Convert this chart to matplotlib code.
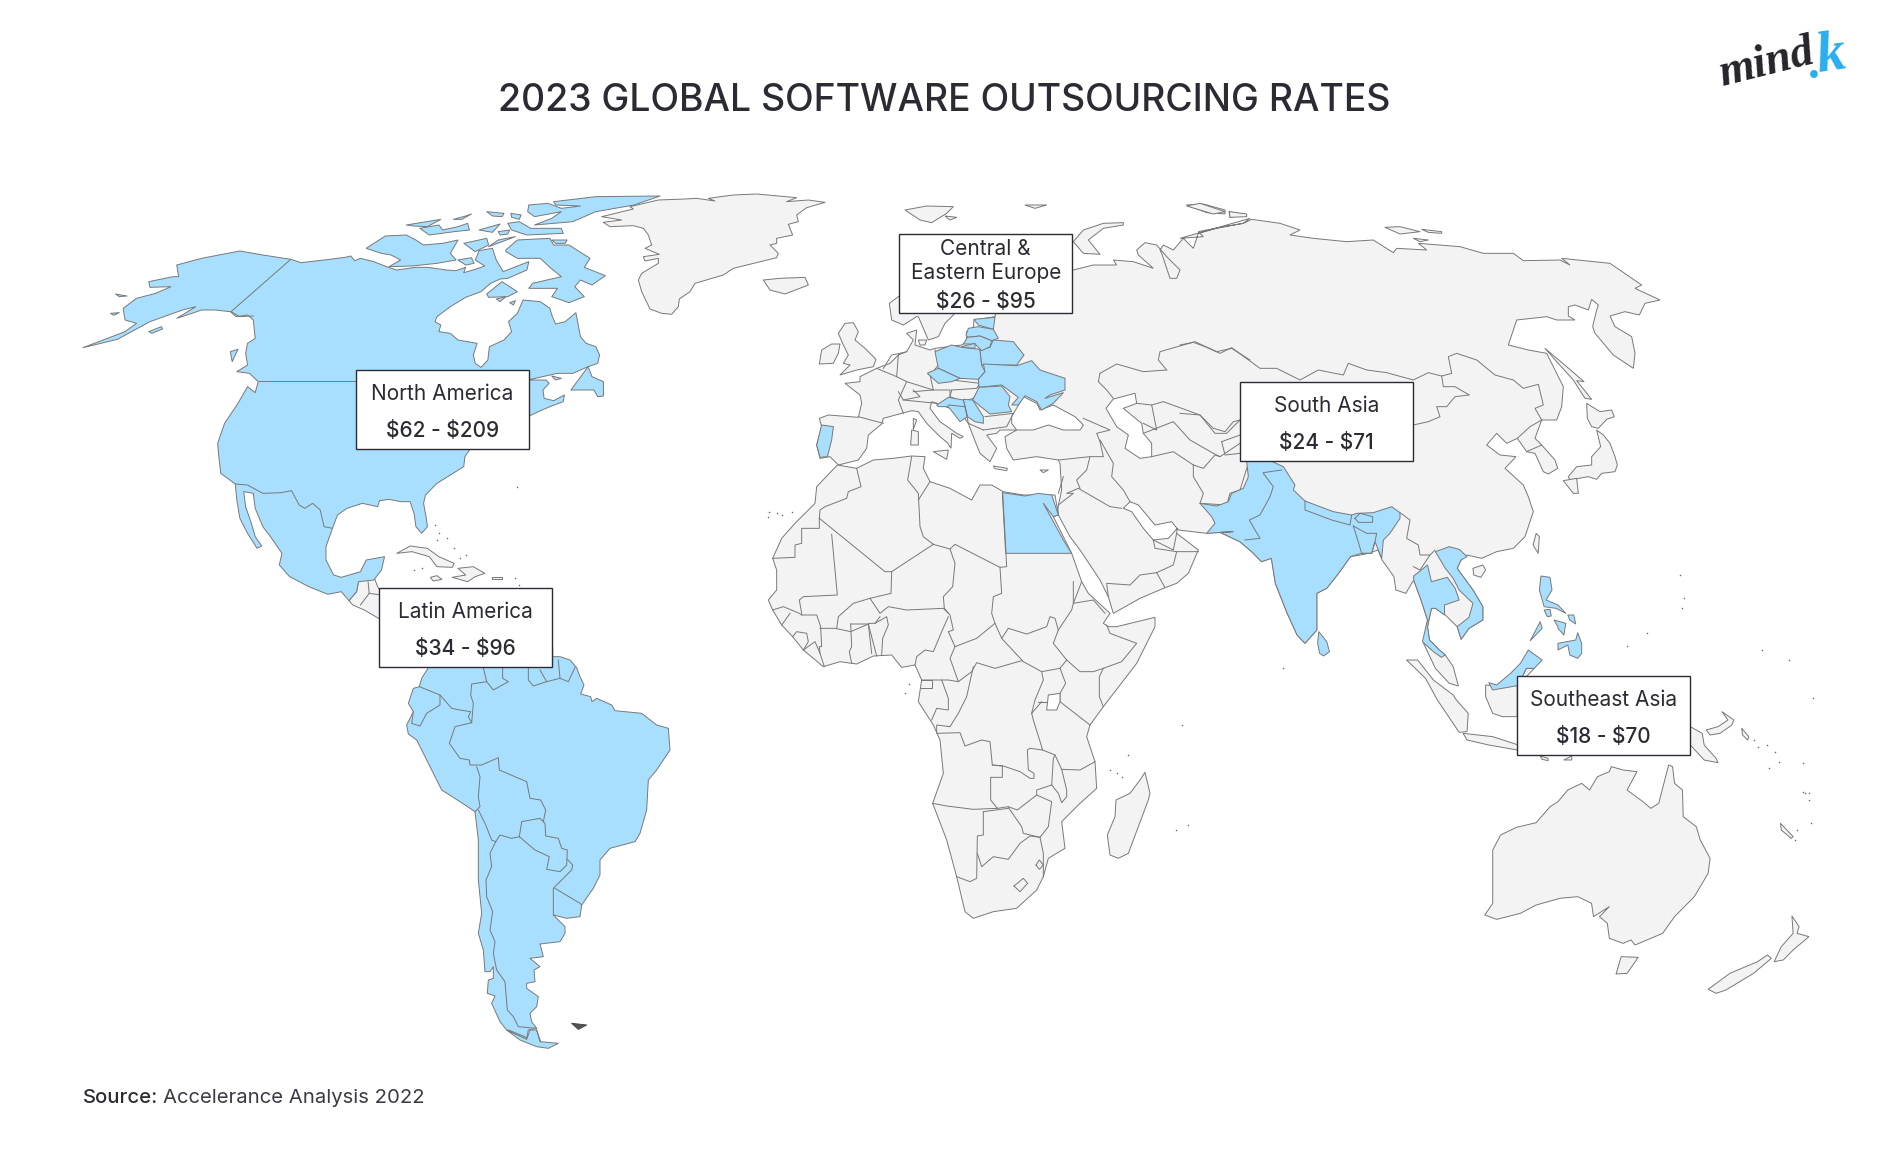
import matplotlib
matplotlib.use("Agg")
import matplotlib.pyplot as plt
from matplotlib.patches import Polygon, Rectangle

# Reading frames of the outline lists: origin x, origin y, scale x, scale y
F1 = (60, 180, 2.613, 3)
F2 = (380, 580, 3, 3)
F3 = (750, 200, 3, 3)
F4 = (1180, 190, 3, 3)
F5 = (1220, 500, 2.53, 3)
F6 = (760, 450, 3, 3)
FG = (600, 185, 3, 3)
FE = (880, 310, 3, 3)

TITLE = "2023 GLOBAL SOFTWARE OUTSOURCING RATES"
REGIONS = ["North America", "Latin America", "Central &\nEastern Europe", "South Asia", "Southeast Asia"]
RATES = ["$62 - $209", "$34 - $96", "$26 - $95", "$24 - $71", "$18 - $70"]

# ---------- highlighted countries ----------
NORTH_AMERICA = [(305,255),(370,235),(470,213),(530,225),(603,238),(630,248),(690,240),(745,232),(760,228),(770,242),(785,235),(820,245),(858,262),(880,270),(930,262),(960,262),(1010,270),(1035,272),(1060,262),(1055,278),(1085,268),(1110,258),(1085,240),(1095,212),(1130,205),(1140,240),(1158,275),(1180,265),(1225,245),(1220,270),(1170,295),(1150,297),(1125,310),(1100,335),(1060,352),(1020,380),(985,410),(980,425),(995,435),(990,455),(1020,460),(1040,480),(1090,490),(1080,525),(1085,550),(1100,562),(1118,540),(1122,500),(1160,480),(1180,455),(1172,425),(1195,400),(1210,360),(1255,365),(1280,385),(1285,405),(1295,432),(1320,425),(1348,398),(1360,470),(1375,490),(1400,500),(1410,525),(1405,550),(1380,560),(1340,580),(1300,580),(1230,598),(1228,600),(1270,600),(1278,610),(1262,630),(1265,655),(1290,662),(1318,645),(1315,665),(1280,680),(1250,695),(1228,707),(1100,780),(1070,810),(1058,830),(1055,860),(1020,885),(985,910),(955,945),(950,970),(958,1020),(960,1040),(945,1060),(930,1040),(925,1000),(915,965),(890,965),(860,958),(835,962),(830,980),(790,970),(750,985),(725,1005),(712,1045),(695,1100),(695,1140),(715,1185),(735,1192),(785,1175),(800,1140),(848,1130),(840,1170),(820,1200),(780,1205),(775,1235),(755,1262),(735,1235),(700,1243),(650,1220),(600,1190),(573,1155),(580,1120),(550,1070),(530,1040),(510,985),(505,940),(480,935),(485,980),(500,1030),(510,1070),(527,1098),(515,1105),(490,1060),(470,1015),(462,960),(458,912),(420,880),(415,830),(412,790),(430,730),(465,670),(490,620),(510,638),(518,605),(495,580),(462,575),(490,555),(485,520),(490,490),(510,475),(505,420),(490,405),(460,410),(445,395),(405,390),(370,390),(345,400),(305,415),(355,380),(320,390),(235,425),(150,478),(60,503),(170,455),(200,430),(170,420),(165,385),(200,355),(250,340),(290,320),(235,322),(232,305),(295,290),(310,290)]
NA_ISLANDS = [
 [(445,515),(465,508),(450,545)],
 [(232,455),(265,440),(268,447),(240,460)],
 [(145,342),(175,348),(155,350)],
 [(132,400),(155,398),(140,406)],
 [(1290,65),(1400,50),(1568,48),(1500,75),(1400,95),(1340,125),(1240,135),(1285,115),(1310,95),(1240,110),(1222,95),(1225,75),(1275,70),(1310,85),(1360,78),(1295,75)],
 [(800,205),(850,168),(905,165),(930,180),(950,195),(1000,190),(1040,180),(1020,220),(1035,240),(985,250),(920,258),(860,260),(890,240),(865,225),(840,220)],
 [(905,135),(995,118),(960,140),(925,138)],
 [(940,145),(990,135),(1000,150),(1040,140),(1065,130),(1070,150),(1030,155),(965,165)],
 [(1028,118),(1060,108),(1075,102),(1050,118)],
 [(1165,210),(1195,180),(1280,175),(1290,195),(1330,195),(1385,235),(1370,262),(1425,287),(1390,315),(1360,300),(1345,320),(1370,350),(1330,368),(1285,350),(1300,325),(1225,325),(1235,310),(1310,290),(1280,262),(1255,235),(1195,235),(1165,215)],
 [(1055,190),(1115,175),(1120,195),(1085,215)],
 [(1120,200),(1190,170),(1145,180)],
 [(1285,180),(1325,180),(1320,190),(1295,190)],
 [(1040,240),(1075,233),(1082,250),(1060,255)],
 [(1170,130),(1200,125),(1230,145),(1310,145),(1315,160),(1220,165),(1180,150)],
 [(1095,150),(1150,132),(1130,157)],
 [(1145,155),(1175,150),(1170,162),(1150,165)],
 [(1115,95),(1160,100),(1155,110),(1130,108)],
 [(1178,100),(1205,105),(1200,118),(1180,112)],
 [(1115,342),(1155,305),(1195,335),(1170,350),(1120,352)],
 [(1140,357),(1165,350),(1150,365)],
 [(1175,368),(1190,362),(1185,375)],
 [(1335,630),(1380,560),(1390,590),(1420,605),(1420,648),(1405,650),(1395,630)],
 [(1285,588),(1310,595),(1295,600)],
]
NA_BORDERS = [
 [(603,238),(447,395),(470,410),(505,408)],
 [(520,604),(775,604)],
 [(458,912),(490,915),(530,940),(578,938),(605,932),(625,975),(640,985),(660,970),(680,990),(690,1040),(712,1045)],
]
SOUTH_AMERICA = [(145,263),(125,295),(118,320),(100,325),(85,370),(100,395),(80,435),(85,462),(110,480),(140,540),(175,610),(185,630),(240,665),(285,695),(295,780),(295,900),(305,1000),(295,1060),(310,1110),(315,1175),(330,1175),(340,1160),(340,1195),(325,1200),(322,1240),(345,1248),(335,1270),(360,1325),(380,1350),(440,1378),(445,1350),(470,1345),(455,1325),(450,1300),(470,1280),(475,1250),(440,1225),(440,1210),(465,1205),(462,1170),(480,1160),(450,1135),(490,1130),(480,1092),(540,1085),(555,1060),(555,1040),(520,1005),(560,1015),(600,1010),(605,975),(640,925),(660,885),(660,840),(690,805),(765,785),(780,760),(800,690),(805,600),(830,570),(870,510),(865,445),(830,435),(785,400),(705,392),(695,375),(650,355),(636,365),(632,350),(602,342),(612,315),(600,290),(590,263),(570,240),(540,230),(518,230),(518,200),(145,200)]
TIERRA = [(380,1350),(440,1378),(450,1350),(470,1350),(480,1385),(535,1390),(505,1405),(470,1400),(420,1380)]
SA_BORDERS = [
 [(118,320),(180,345),(180,375),(140,400),(120,438),(95,430),(100,395)],
 [(180,345),(215,385),(240,390),(272,395),(265,410),(275,428)],
 [(275,428),(225,440),(208,490),(240,535),(268,540),(270,555),(305,555),(355,533),(358,570),(440,605),(450,655),(482,660),(497,690),(490,725)],
 [(310,263),(320,305),(275,312),(272,345),(280,370),(275,428)],
 [(320,305),(340,330),(385,305),(368,295),(368,263)],
 [(445,263),(445,300),(460,318),(500,305),(480,270)],
 [(500,305),(540,295),(535,240)],
 [(540,295),(565,305),(585,262)],
 [(290,560),(300,590),(295,650),(300,680),(285,695)],
 [(295,690),(315,730),(335,780),(347,785)],
 [(347,785),(360,765),(395,775),(418,770)],
 [(418,770),(425,725),(480,715),(495,730),(497,768),(535,775),(545,805),(562,810),(560,855),(540,875),(500,868),(508,830),(465,810),(418,770)],
 [(562,838),(578,855),(575,870),(525,920),(520,925),(520,1005)],
 [(525,925),(600,970),(605,975)],
 [(347,785),(330,820),(335,860),(318,900),(320,950),(338,995),(330,1050),(345,1085),(340,1120),(350,1170),(375,1205),(382,1290),(400,1310),(415,1340),(470,1345)],
 [(385,1350),(440,1372)],[(470,1350),(482,1385)],
]
FALKLANDS = [(575,1330),(620,1335),(595,1348)]

EU_BLUE = [
 [(165,125),(215,105),(245,112),(300,118),(305,165),(315,185),(295,208),(240,205),(175,175)],
 [(142,190),(175,175),(240,205),(215,215),(175,220)],
 [(340,90),(400,95),(432,135),(410,165),(305,165),(300,120),(330,112)],
 [(282,28),(345,22),(340,58),(295,45)],
 [(258,75),(265,55),(295,50),(340,58),(355,85),(335,92),(300,78),(262,82)],
 [(262,82),(300,78),(335,92),(330,110),(305,122),(285,102),(250,102),(262,82)],
 [(245,110),(285,100),(285,115),(250,112)],
 [(310,162),(410,167),(455,152),(480,180),(555,205),(555,240),(510,255),(495,265),(550,248),(520,280),(485,300),(470,275),(435,257),(415,285),(395,285),(415,262),(365,225),(297,232),(295,208),(315,185)],
 [(297,232),(365,228),(390,260),(385,285),(395,305),(330,312),(278,270)],
 [(250,268),(278,270),(310,320),(310,340),(285,335),(262,320)],
 [(170,285),(205,262),(250,270),(262,320),(240,335),(205,290),(175,290)],
]
EU_BLUE_LINES = [[(205,285),(255,290),(262,320)]]
PORTUGAL = [(215,675),(250,680),(245,720),(232,770),(210,772),(200,735)]
EGYPT = [(757,878),(825,888),(865,880),(905,885),(925,945),(910,950),(880,910),(940,1020),(965,1060),(767,1060)]

SOUTH_ASIA_A = [(60,940),(110,948),(145,935),(155,910),(190,895),(205,860),(200,814),(200,780),(275,780),(275,814),(310,830),(345,885),(340,900),(375,933),(460,965),(515,975),(530,970),(580,968),(635,950),(660,968),(660,985),(630,1030),(610,1050),(605,1105),(585,1055),(575,1090),(545,1090),(510,1100)]
SOUTH_ASIA_B = [(330,170),(300,220),(270,265),(245,280),(245,390),(215,430),(195,405),(170,340),(140,250),(130,175),(105,185),(80,155),(50,125),(0,97)]
SOUTH_ASIA_C = [(160,1025),(80,1030),(105,1000),(95,980)]
SOUTH_ASIA_LINES = [
 [(250,848),(305,840)],
 [(250,850),(280,890),(270,920),(240,975),(208,990),(225,1020),(240,1045),(195,1050)],
 [(375,933),(375,960),(455,990),(510,1005),(515,975)],
 [(525,985),(540,970),(578,980),(578,997),(535,997),(525,985)],
 [(520,1008),(560,1030),(590,1030),(585,1055),(575,1090),(545,1090),(530,1040),(520,1008)],
]
SE_ASIA_BLUE = [
 [(250,395),(270,425),(277,455),(262,468),(252,460),(247,430)],
 [(545,155),(580,140),(605,148),(625,170),(610,180),(600,205),(640,270),(665,320),(665,360),(630,385),(610,418),(600,380),(630,352),(640,310),(605,270),(590,235),(570,205),(560,185)],
 [(490,228),(525,195),(535,245),(575,232),(595,265),(605,300),(568,315),(568,345),(545,325),(535,325),(525,380),(530,420),(555,450),(570,465),(560,472),(540,455),(512,425),(525,360),(510,305),(490,240)],
 [(680,548),(700,555),(735,520),(760,490),(780,450),(815,480),(795,505),(775,505),(765,530),(752,557),(690,570)],
 [(812,228),(835,232),(840,270),(825,300),(855,315),(875,340),(850,325),(820,320),(808,270)],
 [(820,330),(835,328),(838,348),(828,350)],
 [(810,365),(815,385),(785,422)],
 [(880,345),(895,345),(900,372),(885,360)],
 [(845,360),(875,370),(870,405),(855,385),(855,380)],
 [(905,398),(915,430),(915,460),(905,475),(885,465),(880,435),(855,450),(855,430),(900,420)],
]

# ---------- grey land ----------
EURASIA_A = [(970,210),(1030,195),(1100,195),(1090,180),(1150,185),(1210,205),(1165,165),(1160,150),(1185,128),(1220,135),(1250,170),(1290,210),(1280,235),(1260,235),(1235,160),(1230,150),(1240,135),(1270,150),(1300,115),(1330,145),(1345,100),(1400,85),(1480,70),(1500,55)]
EURASIA_B = [(0,145),(70,140),(55,125),(130,110),(190,100),(215,88),(300,100),(360,120),(330,135),(400,145),(500,155),(580,150),(640,188),(650,175),(740,180),(715,160),(840,170),(910,190),(1000,190),(1030,212),(1140,210),(1170,225),(1145,205),(1290,220),(1385,285),(1365,295),(1440,330),(1395,340),(1378,375),(1335,365),(1290,378),(1305,410),(1355,440),(1365,490),(1360,535),(1300,495),(1245,430),(1238,410),(1250,360),(1255,345),(1235,328),(1225,360),(1185,345),(1165,350),(1165,378),(1185,390),(1130,390),(1100,380),(1010,390),(985,465),(1045,480),(1100,490),(1150,590),(1145,650),(1130,690),(1085,690),(1065,745),(1085,765),(1125,810),(1133,835),(1105,852),(1090,845),(1065,790),(1040,785),(1012,745),(980,760),(950,730),(920,765),(960,795),(1008,800),(975,835),(1030,885),(1045,920),(1060,965),(1035,1040),(1000,1075),(950,1085),(905,1105),(860,1095)]
EURASIA_C = [(610,180),(600,205),(640,270),(665,320),(665,360),(630,385),(610,418),(600,380),(570,345),(545,325),(535,325),(525,380),(530,420),(555,450),(570,465),(590,500),(603,558),(580,550),(545,505),(515,430),(525,360),(510,305),(490,240),(470,280),(445,270),(440,230),(410,180),(400,150),(375,160),(355,165),(330,170),(300,220),(270,265),(245,280),(245,390),(215,430),(195,405),(170,340),(140,250),(130,175),(105,185),(80,155),(50,125),(0,97)]
EURASIA_D = [(1370,1000),(1285,990),(1265,965),(1215,975),(1165,915),(1140,905),(1120,925),(1145,935),(1180,985),(1210,1020),(1255,1015),(1282,985),(1280,1000),(1345,1050)]
EURASIA_E = [(1285,370),(1250,400),(1215,413),(1140,445),(1060,490),(1045,440),(1020,390),(960,300),(930,260),(895,195),(893,170)]
EURASIA_F = [(920,940),(935,870),(930,790),(925,780),(860,770),(790,780),(770,745),(765,710),(800,690),(750,690),(740,700),(710,705),(740,745),(720,785),(690,760),(670,710),(655,670),(640,650),(600,625),(560,610),(545,605),(540,625),(570,665),(620,700),(640,710),(630,715),(605,700),(603,745),(592,728),(570,710),(530,670),(505,635),(485,632),(455,640),(400,655),(395,672),(355,705),(350,745),(325,780),(265,795),(240,770),(210,775),(200,735),(215,680),(208,655),(235,645),(325,652),(335,610),(330,585),(285,550),(330,545),(330,530),(380,505),(420,490),(450,460),(470,455),(490,420),(470,400),(500,390),(495,435),(540,450),(555,445),(635,435),(650,425),(650,395),(670,382),(672,360),(735,350),(740,325),(620,325),(610,345),(585,370),(565,410),(535,420),(505,350),(500,350),(460,375),(425,360),(418,310),(445,290),(700,200)]
BLACK_SEA = [(785,650),(820,590),(860,610),(870,630),(910,615),(975,650),(1000,675),(990,690),(940,690),(895,675),(850,690),(800,690),(785,670)]
CASPIAN = [(1090,597),(1155,580),(1160,610),(1120,625),(1150,650),(1175,670),(1180,700),(1205,730),(1205,770),(1170,775),(1125,745),(1135,705),(1100,680),(1068,625)]
GREENLAND = [(5,95),(100,72),(90,65),(175,45),(255,42),(290,40),(345,48),(325,40),(400,30),(470,27),(590,38),(560,50),(625,45),(675,52),(620,68),(590,90),(595,110),(565,118),(578,150),(530,160),(530,175),(510,180),(535,205),(530,218),(400,250),(370,270),(285,295),(270,320),(238,342),(235,365),(215,388),(185,385),(150,372),(125,320),(115,285),(125,265),(175,235),(175,220),(135,228),(130,215),(178,208),(135,190),(155,180),(145,150),(130,130),(100,122),(30,125),(10,112),(65,105)]
F3_ISLANDS = [
 [(40,240),(90,235),(165,232),(175,255),(105,282),(60,270)],
 [(465,30),(530,18),(610,20),(590,40),(545,68),(510,60)],
 [(825,15),(890,15),(855,25)],
 [(585,48),(620,52),(600,60)],
 [(970,125),(1000,90),(1060,70),(1120,68),(1120,75),(1060,85),(1015,120),(1050,163),(1000,160)],
 [(1310,15),(1360,12),(1425,30),(1425,42),(1370,38)],
 [(1437,35),(1490,45),(1440,52)],
 [(285,370),(310,368),(325,395),(315,420),(345,445),(378,478),(370,500),(320,510),(270,525),(300,495),(280,490),(295,465),(280,435),(265,400)],
 [(245,432),(270,432),(265,460),(250,490),(208,492),(215,450)],
 [(505,420),(530,420),(525,435),(510,435)],
 [(485,690),(505,695),(505,735),(482,735)],
 [(490,655),(500,660),(490,688)],
 [(550,755),(595,750),(590,778)],
 [(730,798),(772,805),(770,812),(735,806)],
 [(870,810),(895,810),(880,818)],
]
F4_ISLANDS = [
 [(1250,720),(1270,735),(1290,760),(1305,800),(1312,825),(1305,845),(1265,850),(1250,868),(1225,860),(1170,870),(1165,860),(1190,830),(1235,825),(1235,800),(1262,770)],
 [(1150,872),(1190,865),(1195,910),(1180,910)],
 [(1220,640),(1260,665),(1295,660),(1303,680),(1280,688),(1255,715),(1235,710),(1222,685)],
 [(1095,475),(1160,530),(1212,575),(1190,572),(1235,628),(1215,625),(1180,570),(1130,515)],
 [(615,112),(660,110),(720,125),(660,132)],
 [(725,118),(785,125),(785,130),(745,127)],
 [(700,145),(745,150),(720,155)],
 [(20,48),(60,40),(135,65),(100,72)],
 [(148,65),(200,72),(200,80),(150,82)],
]
F5_ISLANDS = [
 [(640,205),(665,195),(672,210),(660,232),(642,225)],
 [(800,100),(808,110),(805,160),(792,135)],
 [(472,480),(500,480),(540,540),(590,585),(598,600),(628,640),(625,695),(605,697),(550,600),(520,535)],
 [(615,700),(690,710),(755,735),(752,750),(680,735),(625,720)],
 [(672,555),(720,560),(752,555),(752,650),(715,650),(690,640),(672,590)],
 [(775,505),(795,505),(775,530),(752,560)],
 [(810,768),(830,775),(830,782),(815,778)],
 [(870,780),(890,768),(890,780)],
 [(1190,680),(1220,700),(1225,735),(1255,775),(1260,788),(1225,780),(1190,735)],
 [(1270,635),(1300,660),(1295,675),(1265,700),(1240,705),(1230,690),(1260,680),(1285,660)],
 [(1320,685),(1338,710),(1335,720),(1322,705)],
 [(1418,970),(1450,1010),(1445,1015),(1420,990)],
 [(690,1050),(710,1005),(750,982),(800,968),(835,920),(855,905),(880,870),(915,850),(935,870),(955,830),(985,815),(990,800),(1020,810),(1055,815),(1030,870),(1070,905),(1090,925),(1110,910),(1135,795),(1145,800),(1150,850),(1170,870),(1172,950),(1205,980),(1215,1020),(1240,1075),(1235,1120),(1200,1190),(1150,1250),(1120,1300),(1050,1335),(1040,1320),(1020,1330),(985,1315),(980,1270),(960,1250),(985,1220),(945,1250),(940,1210),(905,1190),(860,1195),(800,1215),(760,1240),(700,1258),(670,1245),(690,1210),(690,1100)],
 [(1015,1370),(1058,1372),(1030,1420),(1002,1422)],
 [(1447,1248),(1465,1280),(1460,1300),(1490,1310),(1450,1350),(1425,1380),(1402,1385),(1420,1340),(1450,1300)],
 [(1385,1365),(1395,1375),(1350,1420),(1280,1470),(1255,1480),(1235,1468),(1290,1420),(1360,1385)],
]
F1_GREY = [
 [(780,1205),(820,1190),(830,1220),(840,1240),(840,1320),(795,1290),(765,1275),(755,1262),(775,1235)],
 [(880,1120),(915,1098),(960,1105),(990,1130),(1030,1150),(1025,1162),(985,1160),(965,1130),(920,1115)],
 [(1040,1165),(1080,1160),(1110,1180),(1085,1190),(1065,1205),(1025,1192),(1060,1185)],
 [(968,1192),(985,1187),(998,1198),(975,1203)],
 [(1128,1190),(1155,1190),(1155,1198),(1130,1198)],
]
F1_GREY_LINES = [[(805,1205),(808,1240),(785,1275)],[(808,1240),(840,1245)]]
AFRICA = [(232,45),(290,55),(340,30),(400,25),(455,18),(495,20),(490,55),(510,95),(570,115),(635,150),(660,105),(695,105),(730,125),(790,135),(885,135),(895,195),(880,200),(935,310),(965,395),(985,430),(1050,490),(1030,520),(1045,530),(1070,530),(1185,502),(1185,530),(1130,640),(1030,770),(990,825),(980,860),(1005,935),(1010,1015),(960,1060),(905,1115),(915,1195),(865,1225),(850,1280),(830,1320),(770,1375),(700,1385),(640,1405),(615,1385),(590,1280),(560,1170),(518,1060),(550,970),(540,870),(520,825),(475,755),(485,690),(465,645),(425,652),(395,615),(340,618),(290,642),(240,635),(190,650),(130,600),(98,560),(65,525),(38,480),(25,450),(50,420),(50,360),(38,325),(65,265),(105,220),(165,160),(170,110)]
LAKE_VICTORIA = [(860,780),(865,735),(900,730),(900,755),(890,780)]
F6_SMALL = [
 [(1155,967),(1170,1030),(1165,1050),(1135,1130),(1105,1210),(1075,1225),(1050,1215),(1042,1155),(1065,1100),(1068,1050),(1110,1030),(1140,990)],
]
AFRICA_BORDERS = [
 [(290,55),(303,110),(265,125),(260,145),(195,170),(180,180),(178,205)],
 [(38,325),(105,322),(105,285),(125,280),(125,235),(178,235),(178,205)],
 [(215,253),(232,435),(130,440),(118,450),(125,490)],
 [(178,205),(375,365),(395,365),(520,283)],
 [(455,20),(443,90),(475,130),(480,230),(490,260),(520,283)],
 [(475,150),(510,95)],
 [(520,283),(570,297),(585,283),(720,352),(740,350),(728,127)],
 [(395,365),(393,430),(330,445)],
 [(330,445),(360,490),(385,470),(440,480),(550,475),(565,490)],
 [(570,297),(585,340),(578,410),(550,440),(553,475),(570,495),(580,540),(565,545),(585,590),(650,565),(705,520),(695,490),(700,440),(725,430),(720,352)],
 [(940,395),(940,460),(935,480),(895,540),(880,580),(920,630)],
 [(965,395),(940,460),(1000,450),(1035,490)],
 [(705,520),(725,565),(745,535),(800,552),(860,530),(870,500),(885,505),(895,540)],
 [(725,565),(790,635),(845,665),(900,655),(920,630)],
 [(585,590),(570,625),(595,695),(635,665),(650,638),(705,655),(785,632)],
 [(920,630),(960,665),(1000,665),(1030,655),(1085,635),(1130,580),(1050,550),(1040,525)],
 [(900,655),(917,700),(900,730),(900,755),(990,825)],
 [(1030,770),(1018,740),(1018,680),(1030,655)],
 [(845,665),(850,690),(825,750),(815,790)],
 [(835,755),(865,755)],
 [(640,650),(620,740),(595,790),(570,830),(530,825),(530,850),(600,848),(615,888),(665,870),(690,875),(697,945),(730,948),(780,965),(810,985),(822,985),(822,970),(805,960),(802,900),(810,895),(848,900),(820,810),(815,790)],
 [(518,1060),(560,1068),(640,1078),(712,1075)],
 [(697,945),(727,948),(727,982),(692,982),(692,1050),(712,1075)],
 [(712,1075),(745,1070),(772,1080),(830,1035),(830,1020),(875,1005),(880,925),(885,915),(848,900)],
 [(745,1072),(785,1130),(790,1150),(840,1162),(865,1130),(875,1055),(830,1035)],
 [(670,1085),(670,1155),(652,1158),(650,1285),(630,1295),(590,1280)],
 [(670,1085),(745,1075)],
 [(652,1210),(665,1250),(700,1220),(745,1228),(780,1180),(810,1158),(840,1162)],
 [(840,1162),(850,1210),(850,1280)],
 [(905,958),(960,960),(1005,935)],
 [(885,915),(905,958),(920,1020),(920,1040),(905,1058),(895,1030),(875,1005)],
 [(815,790),(845,755)],
 [(762,1308),(790,1285),(803,1300),(780,1325),(762,1308)],
 [(828,1245),(838,1230),(850,1245),(838,1258),(828,1245)],
 [(38,480),(70,470),(118,490),(125,495)],
 [(125,495),(170,495),(182,530),(185,590),(178,590),(180,610),(193,650)],
 [(65,525),(90,490)],
 [(98,560),(110,545),(140,550),(145,575),(130,600)],
 [(130,600),(165,575),(180,610)],
 [(180,535),(225,535),(272,545),(330,520),(345,520),(360,500)],
 [(230,535),(235,500),(280,460),(330,445)],
 [(272,522),(325,522),(350,618)],
 [(272,522),(275,590),(268,605),(275,640)],
 [(325,522),(335,610)],
 [(345,520),(380,500),(385,525),(368,565),(365,615)],
 [(465,645),(470,620),(495,600),(520,605),(545,545),(565,500)],
 [(595,695),(565,690),(485,690)],
 [(485,690),(515,690),(515,715),(482,715)],
 [(545,690),(565,745),(565,780),(530,775),(515,810)],
]
F3_BORDERS = [
 [(380,505),(440,530),(470,545),(445,600),(460,640)],
 [(325,650),(400,670)],
 [(470,455),(445,465),(440,530)],
 [(470,545),(550,570),(540,525),(570,490),(555,450)],
 [(400,505),(425,465),(450,460)],
 [(445,575),(460,600),(510,590),(490,570)],
 [(490,575),(550,570),(600,570),(600,600)],
 [(460,600),(560,610)],
 [(605,540),(690,550),(680,565),(605,570)],
 [(605,570),(600,590),(640,605),(670,595),(690,565)],
 [(705,650),(790,640)],
 [(700,690),(770,680),(790,640)],
 [(650,645),(655,670),(700,690)],
 [(1250,510),(1225,480),(1230,455),(1335,425),(1400,455),(1445,445),(1500,480)],
 [(1050,520),(1100,492),(1180,515),(1250,510)],
 [(1050,520),(1045,545),(1070,570),(1090,595)],
 [(1205,615),(1220,690),(1180,670)],
 [(1160,610),(1205,615),(1240,605),(1350,645),(1395,700),(1430,700),(1470,660)],
 [(1180,700),(1270,665),(1320,720),(1390,760),(1410,770),(1470,730)],
 [(1330,795),(1360,805),(1395,765),(1410,770)],
 [(1330,795),(1330,830),(1360,880),(1350,910)],
 [(1350,910),(1430,915),(1440,880),(1470,870),(1495,790)],
 [(1205,770),(1270,755),(1330,795)],
 [(1050,720),(1090,790),(1085,830),(1120,870),(1140,905)],
 [(925,780),(1020,770),(1060,770),(1050,725)],
 [(1020,770),(1010,810),(980,840),(990,865)],
 [(925,915),(970,880),(950,880),(985,865),(1080,920),(1115,925)],
 [(940,830),(925,880)],
 [(1000,655),(1080,690),(1040,700),(1050,725)],
 [(1280,1000),(1270,1050),(1210,1020)],
]
F4_BORDERS = [
 [(0,465),(40,457),(75,470),(120,490),(155,473),(240,535),(290,535),(360,570),(415,540),(490,555),(505,520),(560,540),(620,548),(700,570),(745,548),(785,558),(790,590),(825,590),(868,615),(825,620),(800,650),(770,650),(780,680),(745,695),(700,705)],
 [(785,558),(815,550),(805,500),(830,490),(890,510),(945,555),(1000,570),(1030,595),(1075,583),(1090,645),(1065,655),(1085,690)],
 [(1012,745),(1050,710),(1085,690)],
 [(1040,785),(1085,765)],
 [(0,670),(60,675),(100,715),(135,725),(160,695),(180,690)],
 [(125,755),(135,795),(180,790)],
 [(125,755),(180,735)],
 [(660,968),(690,990),(680,1045),(715,1065),(720,1095),(750,1095),(765,1080)],
 [(750,1095),(720,1140),(700,1130)],
]
F6_BORDERS = [
 [(1315,305),(1250,305),(1240,345),(1190,368),(1140,375),(1110,405),(1040,400),(1045,440)],
 [(1190,368),(1215,413)],
 [(1250,305),(1185,295),(1180,270)],
]

BOXES = [(355.9,370.3),(378.9,588.3),(899.3,234.3),(1240.3,382.3),(1517.2,676.3)]

TINY_F1 = [(980,1035),(990,1060),(1010,1075),(1030,1105),(1060,1125),(1045,1135),(985,1080),(1190,1195),(1200,1215),(1195,920),(925,1170),(945,1165)]
TINY_F6 = [(28,185),(50,190),(65,195),(95,185),(25,200),(1050,960),(1070,970),(1085,980),(1248,1140),(1283,1125),(1265,825),(1105,915),(447,702),(435,730)]
TINY_F5 = [(1165,225),(1175,295),(1168,325),(1080,400),(1030,438),(1370,450),(1440,480),(1500,593),(1350,720),(1385,735),(1405,755),(1415,785),(1390,805),(1475,790),(1480,880),(1490,900),(1495,970),(1460,990),(1455,1020),(1360,740),(1475,875),(1490,880),(160,503)]

BLUE = "#A8DFFF"
GREY = "#F3F3F3"
EDGE = "#787878"
INK = "#2D2A33"
FONT = "Inter"

def conv(frame, pts):
    x0, y0, sx, sy = frame
    return [(x0 + x / sx, y0 + y / sy) for x, y in pts]

fig = plt.figure(figsize=(18.89, 11.72), dpi=100, facecolor="white")
ax = fig.add_axes([0, 0, 1, 1])
ax.set_xlim(0, 1889)
ax.set_ylim(1172, 0)
ax.axis("off")

def poly(frame, pts, fc, z, ec=EDGE):
    ax.add_patch(Polygon(conv(frame, pts), closed=True, fc=fc, ec=ec, lw=0.7, zorder=z, joinstyle="round"))

def line(frame, pts, z=4):
    xy = conv(frame, pts)
    ax.plot([p[0] for p in xy], [p[1] for p in xy], color=EDGE, lw=0.7, zorder=z, solid_joinstyle="round")

eurasia = (conv(F3, EURASIA_A) + conv(F4, EURASIA_B) + conv(F5, EURASIA_C) + conv(F3, EURASIA_D)
           + conv(F6, EURASIA_E) + conv(F3, EURASIA_F))
ax.add_patch(Polygon(eurasia, closed=True, fc=GREY, ec=EDGE, lw=0.7, zorder=1))
poly(F6, AFRICA, GREY, 1)
poly(F6, LAKE_VICTORIA, "white", 5)
poly(FG, GREENLAND, GREY, 1)
poly(F3, BLACK_SEA, "white", 2)
poly(F3, CASPIAN, "white", 2)
for frame, group in ((F3, F3_ISLANDS), (F4, F4_ISLANDS), (F5, F5_ISLANDS), (F1, F1_GREY), (F6, F6_SMALL)):
    for pts in group:
        poly(frame, pts, GREY, 2)

poly(F1, NORTH_AMERICA, BLUE, 3)
for pts in NA_ISLANDS:
    poly(F1, pts, BLUE, 3)
poly(F2, SOUTH_AMERICA, BLUE, 3)
poly(F2, TIERRA, BLUE, 3)
poly(F2, FALKLANDS, "#555555", 3, ec="#444444")
for pts in EU_BLUE:
    poly(FE, pts, BLUE, 3)
poly(F3, PORTUGAL, BLUE, 3)
poly(F3, EGYPT, BLUE, 3)
south_asia = conv(F4, SOUTH_ASIA_A) + conv(F5, SOUTH_ASIA_B) + conv(F4, SOUTH_ASIA_C)
ax.add_patch(Polygon(south_asia, closed=True, fc=BLUE, ec=EDGE, lw=0.7, zorder=3))
for pts in SE_ASIA_BLUE:
    poly(F5, pts, BLUE, 3)

for frame, group in ((F1, NA_BORDERS), (F2, SA_BORDERS), (FE, EU_BLUE_LINES), (F4, SOUTH_ASIA_LINES),
                     (F6, AFRICA_BORDERS), (F4, F4_BORDERS), (F6, F6_BORDERS), (F1, F1_GREY_LINES)):
    for pts in group:
        line(frame, pts, 4)
for pts in F3_BORDERS:
    line(F3, pts, 2.5)

for frame, pts in ((F1, TINY_F1), (F6, TINY_F6), (F5, TINY_F5)):
    xy = conv(frame, pts)
    ax.plot([p[0] for p in xy], [p[1] for p in xy], ls="none", marker="o", ms=1.1, mfc="#666666", mec="none", zorder=4)

for (bx, by), region, rate in zip(BOXES, REGIONS, RATES):
    ax.add_patch(Rectangle((bx, by), 173, 79, fc="white", ec=INK, lw=1.0, zorder=6))
    cx = bx + 86.5
    if "\n" in region:
        a, b = region.split("\n")
        ax.text(cx, by + 20.7, a, ha="center", va="baseline", fontsize=15, color=INK, family=FONT, zorder=7)
        ax.text(cx, by + 44.7, b, ha="center", va="baseline", fontsize=15, color=INK, family=FONT, zorder=7)
        ax.text(cx, by + 73.4, rate, ha="center", va="baseline", fontsize=15, color=INK, family=FONT,
                weight=500, parse_math=False, zorder=7)
    else:
        ax.text(cx, by + 30, region, ha="center", va="baseline", fontsize=15, color=INK, family=FONT, zorder=7)
        ax.text(cx, by + 66.5, rate, ha="center", va="baseline", fontsize=15, color=INK, family=FONT,
                weight=500, parse_math=False, zorder=7)

ax.text(944, 111, TITLE, ha="center", va="baseline", fontsize=26.9, color=INK, family=FONT, weight=500)
ax.text(83, 1103, "Source:", ha="left", va="baseline", fontsize=14.6, color=INK, family=FONT, weight=500)
ax.text(163, 1103, "Accelerance Analysis 2022", ha="left", va="baseline", fontsize=14.6, color="#3c3945", family=FONT)

# logo
ax.text(1722, 86, "mind", ha="left", va="baseline", rotation=14, rotation_mode="anchor", fontsize=33,
        color="#26232b", family="Liberation Serif", style="italic", weight="bold")
ax.text(1808, 78, ".", ha="left", va="baseline", fontsize=34, color="#2AAEF0", family="Liberation Serif", weight="bold")
ax.text(1818, 72, "k", ha="left", va="baseline", rotation=8, rotation_mode="anchor", fontsize=42,
        color="#2AAEF0", family="Liberation Serif", style="italic", weight="bold")

fig.savefig("out.png", dpi=100, facecolor="white")
